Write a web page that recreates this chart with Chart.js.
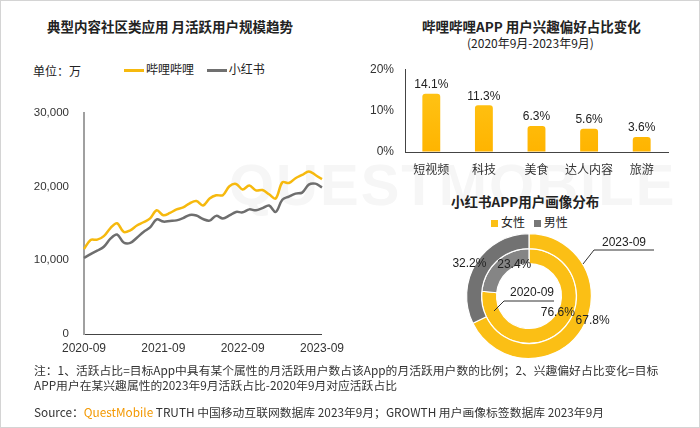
<!DOCTYPE html>
<html>
<head>
<meta charset="utf-8">
<script src="https://cdn.jsdelivr.net/npm/chart.js@4"></script>
<style>
  body { margin: 0; background: #fff; font-family: "Noto Sans CJK SC", "Liberation Sans", sans-serif; }
  #frame { position: relative; width: 698px; height: 426px; border: 1px solid #d4d4d4; overflow: hidden; background: #fff; }
  .abs { position: absolute; white-space: nowrap; color: #222; }
  canvas { position: absolute; }
  .title { font-size: 13.5px; font-weight: bold; }
  .lg-line { display: inline-block; width: 20px; height: 3px; vertical-align: middle; margin-right: 2px; }
  .lg-box { display: inline-block; width: 7px; height: 7px; vertical-align: middle; margin-right: 3px; }
  .wm { color: #f6f6f6; font-family: "Liberation Sans", sans-serif; font-weight: bold; font-size: 58px; letter-spacing: 2px; }
  .note { font-size: 11.8px; color: #333; }
</style>
</head>
<body>
<div id="frame">
  <div class="abs wm" style="left:228px; top:150px;">QUESTMOBILE</div>

  <div class="abs title" style="left:46px; top:15px;">典型内容社区类应用 月活跃用户规模趋势</div>
  <div class="abs" style="left:32px; top:61px; font-size:12px;">单位：万</div>
  <div class="abs" style="left:123px; top:59px; font-size:12px;">
    <span class="lg-line" style="background:#F6B90E"></span>哔哩哔哩
    <span class="lg-line" style="background:#707070; margin-left:10px"></span>小红书
  </div>

  <div class="abs title" style="left:421px; top:15px;">哔哩哔哩APP 用户兴趣偏好占比变化</div>
  <div class="abs" style="left:466px; top:33px; font-size:12px;">(2020年9月-2023年9月)</div>

  <div class="abs title" style="left:450px; top:190px;">小红书APP用户画像分布</div>
  <div class="abs" style="left:490px; top:212px; font-size:12px;">
    <span class="lg-box" style="background:#FBBF15"></span>女性
    <span class="lg-box" style="background:#777; margin-left:6px"></span>男性
  </div>

  <canvas id="lineChart" width="350" height="270" style="left:0; top:90px;"></canvas>
  <canvas id="barChart" width="350" height="135" style="left:350px; top:50px;"></canvas>
  <canvas id="pieChart" width="220" height="140" style="left:440px; top:225px;"></canvas>

  <div class="abs note" style="left:33px; top:360px;">注：1、活跃占比=目标App中具有某个属性的月活跃用户数占该App的月活跃用户数的比例；2、兴趣偏好占比变化=目标</div>
  <div class="abs note" style="left:33px; top:375px;">APP用户在某兴趣属性的2023年9月活跃占比-2020年9月对应活跃占比</div>
  <div class="abs note" style="left:33px; top:402px;">Source：<span style="color:#F39800">QuestMobile</span> TRUTH 中国移动互联网数据库 2023年9月；GROWTH 用户画像标签数据库 2023年9月</div>
</div>

<script>
// monthly active users, 万
const months = [];
for (let y = 2020; y <= 2023; y++) {
  for (let m = 1; m <= 12; m++) {
    if ((y === 2020 && m < 9) || (y === 2023 && m > 9)) continue;
    months.push(y + "-" + String(m).padStart(2, "0"));
  }
}
const bilibili = [
  11530, 12760, 12800, 13280, 14370, 15030, 13850, 14070, 14720, 15160,
  15680, 16780, 16120, 16430, 16910, 17170, 17740, 18040, 17430, 18390,
  18830, 18830, 20050, 20360, 19620, 20140, 19480, 19530, 18960, 18390,
  20580, 20490, 21140, 21580, 22060, 21580, 21010,
];
const xiaohongshu = [
  10310, 10830, 11310, 11840, 12930, 13500, 12410, 12360, 13060, 13850,
  14460, 15550, 15250, 15330, 15420, 15730, 16160, 16080, 15600, 15380,
  16030, 15680, 16080, 16560, 16510, 16910, 16780, 17080, 17430, 16560,
  18220, 18650, 19050, 19180, 20270, 20400, 19880,
];

// interest preference change, %
const interests = ["短视频", "科技", "美食", "达人内容", "旅游"];
const interestChange = [14.1, 11.3, 6.3, 5.6, 3.6];

// xiaohongshu gender split, %
const genders = ["女性", "男性"];
const gender2023 = [67.8, 32.2];
const gender2020 = [76.6, 23.4];

const numFont = { family: "'Liberation Sans', 'Noto Sans CJK SC', sans-serif", size: 12 };
const cjkFont = { family: "'Noto Sans CJK SC', 'Liberation Sans', sans-serif", size: 12 };
const axisOnly = { display: true, drawOnChartArea: false, drawTicks: false };

new Chart(document.getElementById("lineChart"), {
  type: "line",
  data: {
    labels: months,
    datasets: [
      { label: "哔哩哔哩", data: bilibili, borderColor: "#F6B90E", borderWidth: 2.5, pointRadius: 0, tension: 0.35 },
      { label: "小红书", data: xiaohongshu, borderColor: "#6e6e6e", borderWidth: 2.5, pointRadius: 0, tension: 0.35 },
    ],
  },
  options: {
    responsive: false,
    animation: false,
    layout: { padding: { top: 14, right: 21, left: 0, bottom: 0 } },
    plugins: { legend: { display: false }, tooltip: { enabled: false } },
    scales: {
      x: {
        grid: axisOnly,
        border: { color: "#444", width: 1 },
        ticks: {
          autoSkip: false, maxRotation: 0, padding: 7, color: "#333", font: numFont,
          callback: (v, i) => (i % 12 === 0 ? months[i] : ""),
        },
        afterFit: (s) => { s.height = 27; },
      },
      y: {
        min: 0, max: 30000,
        grid: axisOnly,
        border: { color: "#a0a0a0", width: 2 },
        ticks: {
          stepSize: 10000, padding: 15, color: "#333", font: { ...numFont, size: 11.5 },
          callback: (v) => v.toLocaleString("en-US"),
        },
        afterFit: (s) => { s.width = 83; },
      },
    },
  },
});

const barLabels = {
  id: "barLabels",
  afterDatasetsDraw(chart) {
    const { ctx } = chart;
    const meta = chart.getDatasetMeta(0);
    ctx.save();
    ctx.font = "12px 'Liberation Sans', sans-serif";
    ctx.fillStyle = "#222";
    ctx.textAlign = "center";
    ctx.textBaseline = "bottom";
    meta.data.forEach((bar, i) => {
      ctx.fillText(interestChange[i].toFixed(1) + "%", bar.x, bar.y - 3);
    });
    ctx.restore();
  },
};

new Chart(document.getElementById("barChart"), {
  type: "bar",
  data: {
    labels: interests,
    datasets: [{
      data: interestChange,
      backgroundColor: (c) => {
        const area = c.chart.chartArea;
        if (!area) return "#FFC107";
        const g = c.chart.ctx.createLinearGradient(0, area.top, 0, area.bottom);
        g.addColorStop(0, "#FFC81C");
        g.addColorStop(1, "#FFB400");
        return g;
      },
      borderRadius: { topLeft: 3, topRight: 3 },
      borderSkipped: "bottom",
      barPercentage: 0.34,
      categoryPercentage: 1,
    }],
  },
  options: {
    responsive: false,
    animation: false,
    layout: { padding: { top: 13, right: 33, left: 0, bottom: 0 } },
    plugins: { legend: { display: false }, tooltip: { enabled: false } },
    scales: {
      x: {
        grid: axisOnly,
        border: { color: "#444", width: 1 },
        ticks: { autoSkip: false, maxRotation: 0, minRotation: 0, padding: 10, color: "#333", font: cjkFont },
        afterFit: (s) => { s.height = 34; },
      },
      y: {
        min: 0, max: 20,
        grid: axisOnly,
        border: { color: "#444", width: 1 },
        ticks: { stepSize: 10, padding: 11, color: "#333", font: numFont, callback: (v) => v + "%" },
        afterFit: (s) => { s.width = 54; },
      },
    },
  },
  plugins: [barLabels],
});

// label offsets from each arc's centre point, and leader lines from the pie centre
const arcLabelShift = [[[17, -4], [-13, -3]], [[2, -13], [12, -2]]];
const ringNames = ["2023-09", "2020-09"];
const ringNameAt = [[95, -53], [3, -3]];
const leaderLines = [[[54, -32], [65, -46], [125, -46]], [[-35, 15], [-25, 5], [25, 5]]];

const pieLabels = {
  id: "pieLabels",
  afterDatasetsDraw(chart) {
    const { ctx } = chart;
    const c = chart.getDatasetMeta(0).data[0];
    const cx = c.x, cy = c.y;
    ctx.save();
    ctx.font = "12px 'Liberation Sans', sans-serif";
    ctx.fillStyle = "#222";
    ctx.textAlign = "center";
    ctx.textBaseline = "middle";
    [gender2023, gender2020].forEach((vals, d) => {
      chart.getDatasetMeta(d).data.forEach((arc, i) => {
        const p = arc.getCenterPoint();
        const s = arcLabelShift[d][i];
        ctx.fillText(vals[i].toFixed(1) + "%", p.x + s[0], p.y + s[1]);
      });
    });
    ctx.strokeStyle = "#333";
    ctx.lineWidth = 1;
    leaderLines.forEach((pts, d) => {
      ctx.beginPath();
      pts.forEach((p, k) => (k ? ctx.lineTo(cx + p[0], cy + p[1]) : ctx.moveTo(cx + p[0], cy + p[1])));
      ctx.stroke();
      ctx.fillText(ringNames[d], cx + ringNameAt[d][0], cy + ringNameAt[d][1]);
    });
    ctx.restore();
  },
};

new Chart(document.getElementById("pieChart"), {
  type: "doughnut",
  data: {
    labels: genders,
    datasets: [
      { label: "2023-09", data: gender2023, backgroundColor: ["#FBBF15", "#727272"], borderColor: "#fff", borderWidth: 1.2 },
      { label: "2020-09", data: gender2020, backgroundColor: ["#FBBF15", "#858585"], borderColor: "#fff", borderWidth: 1.2 },
    ],
  },
  options: {
    responsive: false,
    animation: false,
    cutout: "52%",
    layout: { padding: { top: 7, right: 69, left: 25, bottom: 7 } },
    plugins: { legend: { display: false }, tooltip: { enabled: false } },
  },
  plugins: [pieLabels],
});
</script>
</body>
</html>
